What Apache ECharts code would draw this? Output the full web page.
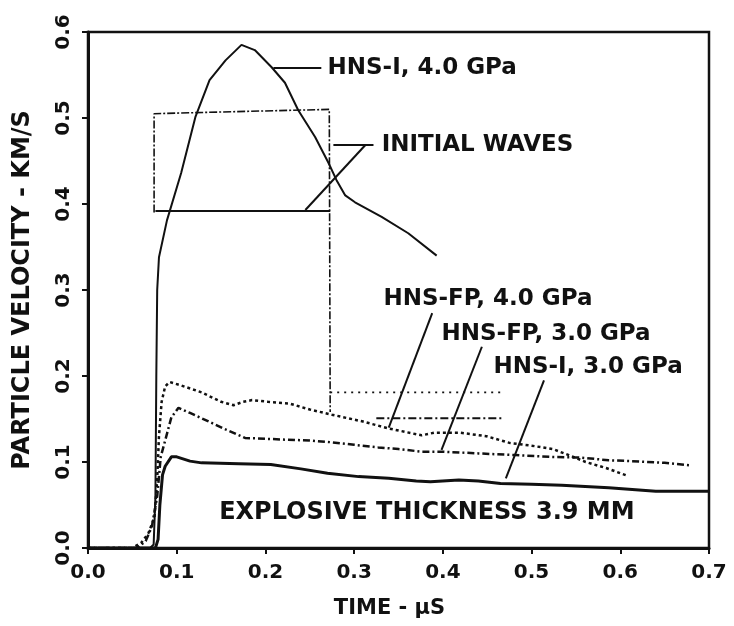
<!DOCTYPE html>
<html lang="en">
  <head>
    <meta charset="utf-8" />
    <title>Particle velocity vs time</title>
    <script src="https://cdn.jsdelivr.net/npm/echarts@6/dist/echarts.min.js"></script>
    <style>
      html, body { margin: 0; padding: 0; background: #fff; }
      #chart { width: 734px; height: 626px; }
    </style>
  </head>
  <body>
    <div id="chart"></div>
    <script>
      // axis ticks
      var xTicks = [0, 0.1, 0.2, 0.3, 0.4, 0.5, 0.6, 0.7]
      var yTicks = [0, 0.1, 0.2, 0.3, 0.4, 0.5, 0.6]

      // traces, [time us, velocity km/s]
      var hnsI4 = [[0, 0], [0.070, 0], [0.074, 0.004], [0.076, 0.06], [0.077, 0.2], [0.078, 0.3], [0.080, 0.338],
        [0.089, 0.381], [0.105, 0.436], [0.121, 0.501], [0.137, 0.544], [0.155, 0.567], [0.173, 0.585],
        [0.188, 0.579], [0.207, 0.559], [0.222, 0.541], [0.237, 0.509], [0.256, 0.478], [0.271, 0.448],
        [0.280, 0.428], [0.290, 0.410], [0.301, 0.402], [0.331, 0.385], [0.361, 0.366], [0.393, 0.340]]
      var hnsFP4 = [[0, 0], [0.050, 0], [0.060, 0.006], [0.068, 0.017], [0.075, 0.036], [0.078, 0.08],
        [0.080, 0.13], [0.083, 0.17], [0.087, 0.188], [0.092, 0.193], [0.105, 0.189], [0.128, 0.181],
        [0.150, 0.170], [0.164, 0.166], [0.175, 0.170], [0.185, 0.172], [0.203, 0.170], [0.227, 0.168],
        [0.250, 0.161], [0.275, 0.155], [0.310, 0.147], [0.339, 0.139], [0.376, 0.131], [0.390, 0.134],
        [0.420, 0.134], [0.449, 0.130], [0.476, 0.122], [0.500, 0.119], [0.524, 0.115], [0.542, 0.108],
        [0.561, 0.100], [0.584, 0.093], [0.608, 0.084]]
      var hnsFP3 = [[0, 0], [0.055, 0], [0.065, 0.008], [0.072, 0.025], [0.078, 0.06], [0.082, 0.106],
        [0.087, 0.125], [0.094, 0.152], [0.102, 0.163], [0.115, 0.157], [0.132, 0.149], [0.155, 0.138],
        [0.177, 0.128], [0.200, 0.127], [0.222, 0.126], [0.250, 0.125], [0.274, 0.123], [0.300, 0.120],
        [0.327, 0.117], [0.350, 0.115], [0.376, 0.112], [0.400, 0.112], [0.440, 0.110], [0.482, 0.108],
        [0.520, 0.106], [0.557, 0.105], [0.587, 0.102], [0.613, 0.101], [0.650, 0.099], [0.680, 0.096]]
      var hnsI3 = [[0, 0], [0.076, 0], [0.079, 0.01], [0.081, 0.05], [0.084, 0.085], [0.087, 0.095],
        [0.094, 0.106], [0.100, 0.106], [0.115, 0.101], [0.128, 0.099], [0.170, 0.098], [0.206, 0.097],
        [0.240, 0.092], [0.270, 0.087], [0.305, 0.083], [0.339, 0.081], [0.370, 0.078], [0.386, 0.077],
        [0.418, 0.079], [0.440, 0.078], [0.465, 0.075], [0.500, 0.074], [0.534, 0.073], [0.587, 0.070],
        [0.640, 0.066], [0.701, 0.066]]

      // initial waves
      var waveI4 = [[0.0745, 0.39], [0.0745, 0.505], [0.150, 0.507], [0.272, 0.510], [0.273, 0.158]]
      var waveSolid = [[0.076, 0.392], [0.273, 0.392]]
      var waveFP4 = [[0.273, 0.181], [0.470, 0.181]]
      var waveFP3 = [[0.325, 0.151], [0.468, 0.151]]

      // leader lines
      var leaders = [
        [[0.209, 0.558], [0.263, 0.558]],
        [[0.2766, 0.4686], [0.3218, 0.4686]],
        [[0.3127, 0.4686], [0.245, 0.393]],
        [[0.388, 0.273], [0.339, 0.140]],
        [[0.444, 0.234], [0.3985, 0.114]],
        [[0.514, 0.195], [0.471, 0.081]]
      ]

      // annotation texts
      var labelNames = ['HNS-I, 4.0 GPa', 'INITIAL WAVES', 'HNS-FP, 4.0 GPa', 'HNS-FP, 3.0 GPa', 'HNS-I, 3.0 GPa']
      var labelPos = [[0.270, 0.558], [0.331, 0.4686], [0.333, 0.289], [0.3985, 0.249], [0.457, 0.210]]
      var noteText = 'EXPLOSIVE THICKNESS 3.9 MM'
      var notePos = [0.382, 0.041]

      var ink = '#111'
      var font = 'DejaVu Sans'

      var chart = echarts.init(document.getElementById('chart'))

      function trace (data, width, type) {
        return {
          type: 'line',
          data: data,
          symbol: 'none',
          silent: true,
          lineStyle: { color: ink, width: width, type: type }
        }
      }

      var series = [
        trace(hnsI4, 2, 'solid'),
        trace(hnsFP4, 2.5, [3, 3]),
        trace(hnsFP3, 2.5, [7, 3, 2, 3]),
        trace(hnsI3, 3, 'solid'),
        trace(waveI4, 1.6, [8, 2, 2, 2]),
        trace(waveSolid, 2, 'solid'),
        trace(waveFP4, 1.6, [2, 5]),
        trace(waveFP3, 2, [8, 3, 2, 3])
      ]
      leaders.forEach(function (seg) {
        series.push(trace(seg, 2, 'solid'))
      })
      series.push({
        type: 'scatter',
        symbolSize: 0,
        silent: true,
        itemStyle: { opacity: 1 },
        data: labelNames.map(function (n, i) { return { name: n, value: labelPos[i] } }),
        label: {
          show: true,
          position: 'right',
          distance: 0,
          formatter: '{b}',
          color: ink,
          fontFamily: font,
          fontWeight: 'bold',
          fontSize: 23
        }
      })
      series.push({
        type: 'scatter',
        symbolSize: 0,
        silent: true,
        itemStyle: { opacity: 1 },
        data: [{ name: noteText, value: notePos }],
        label: {
          show: true,
          position: 'inside',
          formatter: '{b}',
          color: ink,
          fontFamily: font,
          fontWeight: 'bold',
          fontSize: 24
        }
      })

      chart.setOption({
        backgroundColor: '#fff',
        animation: false,
        grid: { left: 88, right: 25, top: 32, bottom: 78, show: true, borderColor: ink, borderWidth: 2.5 },
        xAxis: {
          type: 'value',
          min: xTicks[0],
          max: xTicks[xTicks.length - 1],
          interval: 0.1,
          name: 'TIME - \u03bcS',
          nameLocation: 'middle',
          nameGap: 50,
          nameTextStyle: { color: ink, fontFamily: font, fontWeight: 'bold', fontSize: 21, padding: [0, 18, 0, 0] },
          axisLine: { lineStyle: { color: ink, width: 3 } },
          axisTick: { length: 6, lineStyle: { color: ink, width: 2 } },
          axisLabel: { margin: 15, color: ink, fontFamily: font, fontWeight: 'bold', fontSize: 20,
            formatter: function (v) { return v.toFixed(1) } },
          splitLine: { show: false }
        },
        yAxis: {
          type: 'value',
          min: yTicks[0],
          max: yTicks[yTicks.length - 1],
          interval: 0.1,
          name: 'PARTICLE VELOCITY - KM/S',
          nameLocation: 'middle',
          nameGap: 53,
          nameTextStyle: { color: ink, fontFamily: font, fontWeight: 'bold', fontSize: 24 },
          axisLine: { lineStyle: { color: ink, width: 3 } },
          axisTick: { length: 6, lineStyle: { color: ink, width: 2 } },
          axisLabel: { margin: 14, rotate: 90, color: ink, fontFamily: font, fontWeight: 'bold', fontSize: 20,
            formatter: function (v) { return v.toFixed(1) } },
          splitLine: { show: false }
        },
        series: series
      })
    </script>
  </body>
</html>
